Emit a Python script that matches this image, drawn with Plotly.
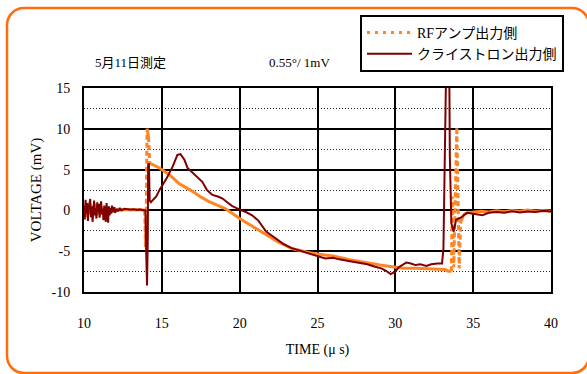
import plotly.graph_objects as go

# ---- measured traces (time in µs, voltage in mV) ----
rf_time = [
    10.0, 10.1, 10.2, 10.3, 10.4, 10.5, 10.6, 10.7, 10.8, 10.9,
    11.0, 11.1, 11.2, 11.3, 11.4, 11.5, 11.6, 11.7, 11.8, 11.9, 12.0,
    12.5, 13.0, 13.5, 13.9, 13.95, 14.0, 14.05, 14.15, 14.22,
    14.85, 15.5, 16.1, 17.0, 17.45, 18.0, 19.1, 20.0, 20.6, 21.2,
    21.7, 22.5, 23.4, 24.0, 24.5, 25.2, 26.0, 27.0, 28.1, 29.0,
    29.8, 30.5, 31.3, 32.5, 33.2, 33.4, 33.6, 33.66, 33.75, 33.95,
    34.1, 34.2, 34.4, 34.6, 35.0, 35.5, 36.0, 36.5, 37.0, 37.5,
    38.0, 38.5, 39.0, 39.5, 40.0,
]
rf_volt = [
    0.3, -0.8, 0.9, -0.5, 0.7, -0.9, 0.4, 0.8, -0.6, 0.3,
    -0.5, 0.5, -0.3, 0.2, -0.4, 0.3, -0.1, 0.2, -0.2, 0.1, 0.0,
    0.1, 0.05, 0.1, 0.0, -4.5, 0.2, 10.0, 9.0, 5.8,
    5.2, 4.35, 3.3, 2.3, 1.7, 1.1, 0.2, -1.0, -1.7, -2.4,
    -3.0, -3.9, -4.7, -5.0, -5.2, -5.4, -5.6, -6.0, -6.4, -6.7,
    -6.9, -7.1, -7.1, -7.2, -7.25, -7.45, -7.45, 1.7, -7.0, 10.2,
    -7.1, -1.4, -0.5, -0.3, -0.2, -0.1, -0.2, -0.05, -0.15, 0.0,
    -0.1, 0.05, -0.1, 0.0, -0.1,
]

kly_time = [
    10.0, 10.05, 10.1, 10.15, 10.2, 10.25, 10.3, 10.35, 10.4, 10.45,
    10.5, 10.55, 10.6, 10.65, 10.7, 10.75, 10.8, 10.85, 10.9, 10.95,
    11.0, 11.05, 11.1, 11.15, 11.2, 11.25, 11.3, 11.35, 11.4, 11.45,
    11.5, 11.55, 11.6, 11.65, 11.7, 11.75, 11.8, 11.85, 11.9, 11.95,
    12.0, 12.1, 12.2, 12.3, 12.4, 12.6, 12.8, 13.0, 13.2, 13.4,
    13.6, 13.8, 13.95, 14.0, 14.05, 14.1, 14.12, 14.17, 14.22, 14.3,
    14.64, 14.85, 15.3, 15.7, 16.0, 16.2, 16.45, 16.65, 16.97, 17.3,
    17.6, 17.9, 18.25, 18.6, 18.9, 19.2, 19.5, 20.0, 20.4, 20.8,
    21.2, 21.7, 22.2, 22.8, 23.3, 23.8, 24.3, 24.9, 25.5, 26.0,
    26.4, 27.0, 27.7, 28.2, 28.7, 29.1, 29.4, 29.7, 30.0, 30.2,
    30.7, 31.0, 31.3, 31.6, 32.0, 32.3, 32.7, 33.0, 33.09, 33.17,
    33.3, 33.45, 33.5, 33.6, 33.75, 33.9, 34.2, 34.6, 35.1, 35.6,
    36.0, 36.5, 37.0, 37.5, 38.0, 38.5, 39.0, 39.5, 40.0,
]
kly_volt = [
    0.6, -1.1, 1.3, -0.4, 0.9, -1.3, 0.2, 1.1, 1.4, -0.8,
    0.5, -1.4, 0.7, 1.2, -0.6, 0.3, -1.0, 1.0, -0.2, 0.8,
    -0.9, 0.4, 1.1, -0.5, 0.2, -1.2, 0.6, -0.3, -1.4, 0.9,
    -0.7, -1.5, 0.5, -0.6, 0.3, -0.4, 0.6, -0.2, 0.1, 0.4,
    -0.3, 0.2, -0.1, 0.3, 0.0, 0.2, 0.15, 0.1, 0.15, 0.05,
    0.1, 0.05, 0.0, -5.5, -9.2, -3.0, 5.6, 5.8, 1.2, 1.0,
    1.7, 2.5, 3.9, 5.4, 6.8, 6.9, 6.2, 5.2, 4.6, 4.0,
    3.5, 2.5, 1.9, 1.7, 1.45, 1.0, 0.55, 0.1, -0.2, -0.6,
    -1.25, -2.6, -3.3, -4.1, -4.6, -4.9, -5.2, -5.5, -5.9, -5.8,
    -6.0, -6.2, -6.45, -6.6, -6.9, -7.1, -7.4, -7.8, -7.5, -7.0,
    -6.4, -6.5, -6.7, -6.6, -6.8, -6.6, -6.5, -6.5, -4.7, 6.9,
    22.0, 22.0, 6.7, -1.6, -2.6, -1.15, -0.9, -0.3, -0.45, -0.6,
    -0.3, -0.2, -0.3, -0.1, -0.25, -0.15, -0.2, -0.05, -0.15,
]

x_ticks = [10, 15, 20, 25, 30, 35, 40]
y_ticks = [-10, -5, 0, 5, 10, 15]

ORANGE = "#FF8424"
MAROON = "#800000"
FRAME = "#FF6D0D"
FONT = "Liberation Serif, 'Noto Sans CJK JP', serif"


def split_by_slope(t, v, limit=40.0):
    """Split a trace into gentle and steep runs (None-separated)."""
    gx, gy, sx, sy = [], [], [], []
    for i in range(len(t) - 1):
        steep = abs(v[i + 1] - v[i]) / (t[i + 1] - t[i]) > limit
        xs, ys = (sx, sy) if steep else (gx, gy)
        if xs and xs[-1] == t[i]:
            xs.append(t[i + 1]); ys.append(v[i + 1])
        else:
            if xs:
                xs.append(None); ys.append(None)
            xs += [t[i], t[i + 1]]; ys += [v[i], v[i + 1]]
    return gx, gy, sx, sy


gx, gy, sx, sy = split_by_slope(rf_time, rf_volt)

fig = go.Figure()
fig.add_trace(go.Scatter(x=gx, y=gy, mode="lines", showlegend=False,
                         legendgroup="rf", hoverinfo="skip",
                         line=dict(color=ORANGE, width=3)))
fig.add_trace(go.Scatter(x=sx, y=sy, mode="lines", showlegend=False,
                         legendgroup="rf", hoverinfo="skip",
                         line=dict(color=ORANGE, width=3, dash="5px,3px")))
fig.add_trace(go.Scatter(x=[None], y=[None], mode="lines", name="RFアンプ出力側",
                         legendgroup="rf",
                         line=dict(color=ORANGE, width=3, dash="3px,5px")))
fig.add_trace(go.Scatter(x=kly_time, y=kly_volt, mode="lines", name="クライストロン出力側",
                         line=dict(color=MAROON, width=2)))

# plot-area geometry in pixels
W, H = 587, 374
L, R, T, B = 84, 36, 88, 82
pw, ph = W - L - R, H - T - B


def px(xp):
    return (xp - L) / pw


def py(yp):
    return (H - B - yp) / ph


# rounded outer frame
x0, x1, y0, y1, r = 7, 589, 8, 373, 17
k = 0.45
path = (
    f"M {px(x0 + r)},{py(y0)} L {px(x1 - r)},{py(y0)} "
    f"C {px(x1 - r * k)},{py(y0)} {px(x1)},{py(y0 + r * k)} {px(x1)},{py(y0 + r)} "
    f"L {px(x1)},{py(y1 - r)} "
    f"C {px(x1)},{py(y1 - r * k)} {px(x1 - r * k)},{py(y1)} {px(x1 - r)},{py(y1)} "
    f"L {px(x0 + r)},{py(y1)} "
    f"C {px(x0 + r * k)},{py(y1)} {px(x0)},{py(y1 - r * k)} {px(x0)},{py(y1 - r)} "
    f"L {px(x0)},{py(y0 + r)} "
    f"C {px(x0)},{py(y0 + r * k)} {px(x0 + r * k)},{py(y0)} {px(x0 + r)},{py(y0)} Z"
)

fig.update_layout(
    width=W, height=H,
    margin=dict(l=L, r=R, t=T, b=B),
    paper_bgcolor="white", plot_bgcolor="white",
    font=dict(family=FONT, size=14, color="black"),
    shapes=[dict(type="path", xref="paper", yref="paper", path=path,
                 line=dict(color=FRAME, width=2.5), layer="below")],
    legend=dict(x=px(360), y=py(15), xanchor="left", yanchor="top",
                bordercolor="black", borderwidth=2, bgcolor="white",
                itemwidth=45,
                font=dict(family=FONT, size=14), tracegroupgap=0),
    annotations=[
        dict(text="5月11日測定", x=px(93), y=py(62), xref="paper", yref="paper",
             xanchor="left", yanchor="middle", showarrow=False,
             font=dict(family=FONT, size=13)),
        dict(text="0.55°/ 1mV", x=px(267), y=py(62), xref="paper", yref="paper",
             xanchor="left", yanchor="middle", showarrow=False,
             font=dict(family=FONT, size=13)),
    ],
)

fig.update_xaxes(
    range=[10, 40], tickvals=x_ticks, ticktext=[str(v) for v in x_ticks],
    showline=True, mirror=True, linecolor="black", linewidth=2,
    showgrid=True, gridcolor="black", gridwidth=2, zeroline=False,
    ticks="", ticklabelstandoff=17,
    title=dict(text="TIME (μ s)", standoff=14, font=dict(family=FONT, size=14)),
)
fig.update_yaxes(
    range=[-10, 15], tickvals=y_ticks, ticktext=[str(v) for v in y_ticks],
    showline=True, mirror=True, linecolor="black", linewidth=2,
    showgrid=True, gridcolor="black", gridwidth=2, zeroline=False,
    ticks="", ticklabelstandoff=9,
    minor=dict(dtick=2.5, tick0=0, showgrid=True, gridcolor="#222222",
               gridwidth=1, griddash="1px,2px"),
    title=dict(text="VOLTAGE (mV)", standoff=6, font=dict(family=FONT, size=15)),
)

fig.write_html("out.html")
